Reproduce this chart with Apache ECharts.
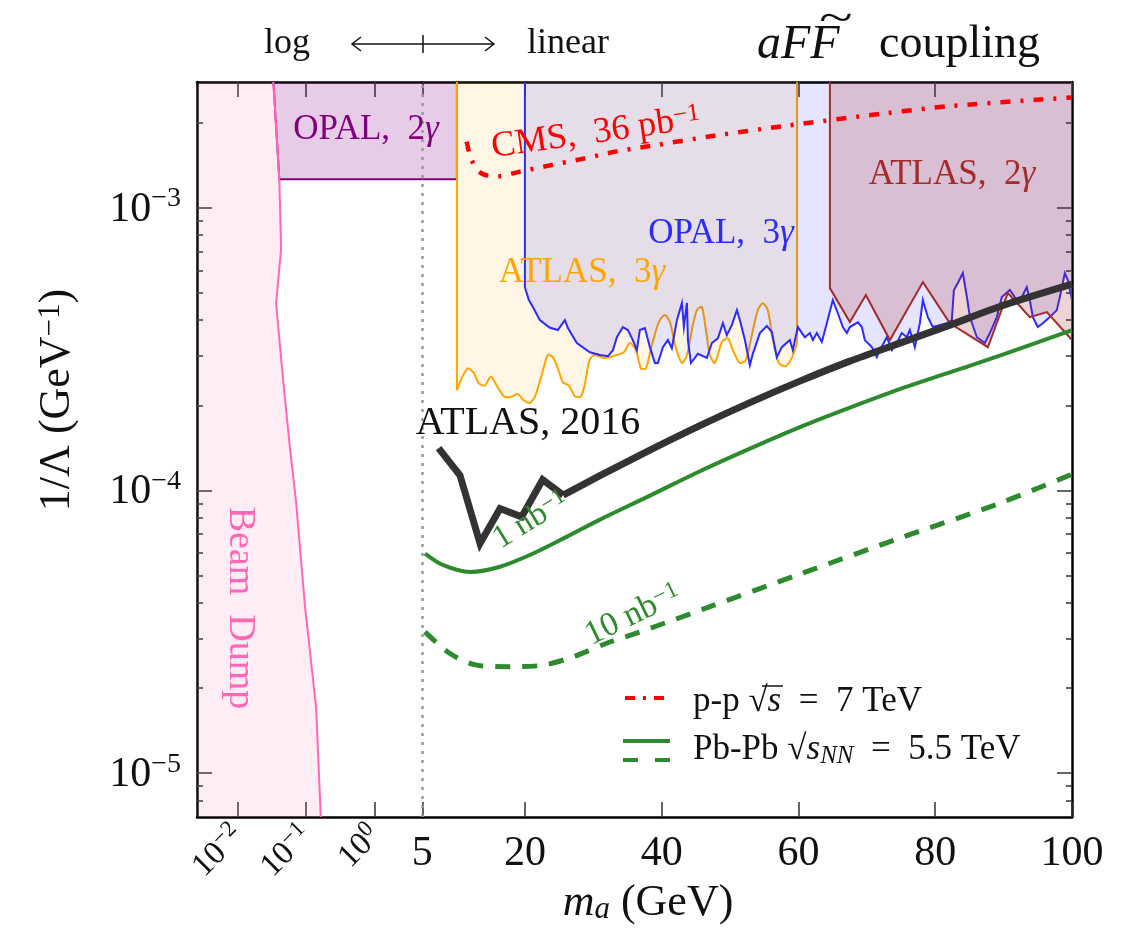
<!DOCTYPE html>
<html>
<head>
<meta charset="utf-8">
<title>aFF coupling</title>
<script src="https://cdn.jsdelivr.net/npm/echarts@6/dist/echarts.min.js"></script>
<style>
  html, body { margin: 0; padding: 0; background: #fff; }
  #chart { width: 1137px; height: 935px; }
</style>
</head>
<body>
<div id="chart"></div>
<script>
  const FONT = 'Liberation Serif'

  // axis ranges
  const yMin = 7e-6, yMax = 2.78e-3
  const xLogMin = 0.00254, xSplit = 5, xMax = 100

  // ticks
  const logTicks = [0.01, 0.1, 1]
  const linTicks = [5, 20, 40, 60, 80, 100]
  const yMajor = [1e-5, 1e-4, 1e-3]
  const yMinor = [8e-6, 9e-6,
    2e-5, 3e-5, 4e-5, 5e-5, 6e-5, 7e-5, 8e-5, 9e-5,
    2e-4, 3e-4, 4e-4, 5e-4, 6e-4, 7e-4, 8e-4, 9e-4, 2e-3]

  // exclusion boundaries [m_a (GeV), 1/Lambda (GeV^-1)]
  const beamDump = [[0.0332, yMax], [0.0406, 1.26e-3], [0.0431, 7.15e-4], [0.0364, 4.57e-4],
    [0.0465, 2.41e-4], [0.0583, 1.40e-4], [0.0714, 9.09e-5], [0.0967, 3.86e-5],
    [0.140, 1.71e-5], [0.164, yMin]]

  const opal2g = [[0.0332, yMax], [0.0406, 1.26e-3], [10.06, 1.26e-3], [10.06, yMax]]

  const atlas3g = [[10.06, yMax], [10.06, 2.26e-4], [10.79, 2.50e-4], [11.67, 2.70e-4], [12.54, 2.60e-4],
    [13.27, 2.39e-4], [14.15, 2.35e-4], [15.03, 2.53e-4], [15.91, 2.34e-4], [16.93, 2.15e-4],
    [17.95, 2.14e-4], [18.98, 2.19e-4], [19.85, 2.08e-4], [20.73, 2.04e-4], [21.46, 2.14e-4],
    [22.34, 2.50e-4], [23.36, 3.01e-4], [24.09, 2.96e-4], [24.82, 2.70e-4], [25.56, 2.41e-4],
    [26.43, 2.35e-4], [27.31, 2.15e-4], [28.19, 2.15e-4], [28.77, 2.37e-4], [29.36, 2.84e-4],
    [30.09, 3.01e-4], [31.55, 2.94e-4], [33.01, 2.99e-4], [34.47, 3.08e-4], [35.35, 3.32e-4],
    [36.23, 3.13e-4], [36.96, 2.70e-4], [37.69, 2.70e-4], [38.57, 3.26e-4], [39.59, 3.94e-4],
    [40.47, 4.17e-4], [41.20, 3.94e-4], [42.08, 3.18e-4], [42.96, 2.82e-4], [43.69, 3.01e-4],
    [44.41, 3.69e-4], [45.15, 4.34e-4], [45.88, 4.45e-4], [46.46, 3.69e-4], [47.05, 3.01e-4],
    [47.78, 2.82e-4], [48.80, 3.34e-4], [49.68, 3.45e-4], [50.41, 3.13e-4], [51.43, 2.82e-4],
    [52.31, 2.89e-4], [53.19, 3.54e-4], [54.06, 4.34e-4], [54.79, 4.59e-4], [55.52, 4.34e-4],
    [56.25, 3.40e-4], [57.13, 2.82e-4], [58.15, 2.75e-4], [59.03, 2.94e-4], [59.8, 3.32e-4],
    [59.8, yMax]]

  const opal3g = [[20, yMax], [20, 5.23e-4], [20.58, 4.71e-4], [21.17, 4.45e-4], [22.19, 4.0e-4],
    [23.66, 3.76e-4], [24.82, 3.69e-4], [25.85, 4.0e-4], [26.29, 3.75e-4], [27.6, 3.32e-4],
    [29.5, 3.08e-4], [30.97, 3.01e-4], [32.14, 2.98e-4], [32.87, 3.13e-4], [33.45, 3.48e-4],
    [34.33, 3.78e-4], [35.06, 3.69e-4], [35.79, 3.40e-4], [36.37, 3.13e-4], [36.81, 3.69e-4],
    [37.54, 3.75e-4], [38.28, 3.21e-4], [39.01, 2.82e-4], [39.45, 2.82e-4], [40.18, 3.21e-4],
    [40.91, 3.40e-4], [41.49, 3.18e-4], [42.23, 4.0e-4], [42.96, 4.6e-4], [43.25, 3.78e-4],
    [43.69, 4.6e-4], [43.84, 3.4e-4], [44.28, 2.82e-4], [45.29, 3.04e-4], [46.61, 2.94e-4],
    [47.34, 3.32e-4], [48.22, 3.45e-4], [48.95, 3.9e-4], [49.53, 3.54e-4], [50.26, 3.84e-4],
    [51.0, 4.34e-4], [51.43, 4.0e-4], [52.17, 3.4e-4], [52.9, 2.77e-4], [53.33, 3.04e-4],
    [54.36, 3.6e-4], [55.38, 3.81e-4], [56.11, 3.63e-4], [56.84, 2.96e-4], [57.57, 3.21e-4],
    [58.74, 3.4e-4], [59.18, 3.13e-4], [59.91, 3.78e-4], [60.94, 3.48e-4], [61.67, 3.6e-4],
    [62.11, 3.4e-4], [62.69, 3.6e-4], [63.42, 3.35e-4], [64.15, 3.9e-4], [65.03, 4.71e-4],
    [65.76, 4.23e-4], [66.49, 3.78e-4], [67.08, 3.6e-4], [67.52, 3.78e-4], [68.69, 3.93e-4],
    [69.27, 3.78e-4], [69.71, 3.4e-4], [70.73, 3.21e-4], [71.46, 2.96e-4], [71.9, 3.13e-4],
    [72.92, 3.48e-4], [73.65, 3.13e-4], [74.38, 3.32e-4], [75.11, 3.6e-4], [75.85, 3.48e-4],
    [76.29, 3.69e-4], [77.02, 3.21e-4], [77.75, 3.9e-4], [78.19, 4.71e-4], [78.92, 4.1e-4],
    [79.65, 3.78e-4], [81.7, 3.9e-4], [82.43, 4.0e-4], [82.73, 5.11e-4], [83.31, 5.41e-4],
    [84.04, 5.87e-4], [84.63, 4.83e-4], [85.07, 4.1e-4], [86.09, 3.48e-4], [87.26, 3.32e-4],
    [87.99, 3.6e-4], [89.01, 4.1e-4], [89.74, 4.83e-4], [90.91, 5.11e-4], [91.93, 4.71e-4],
    [92.66, 4.83e-4], [93.39, 5.23e-4], [93.83, 4.71e-4], [94.27, 4.1e-4], [95.0, 3.78e-4],
    [95.73, 3.9e-4], [96.76, 4.1e-4], [97.78, 4.34e-4], [98.22, 4.83e-4], [98.95, 5.87e-4],
    [99.39, 5.54e-4], [100, 4.71e-4], [100, yMax]]

  const atlas2g = [[64.6, yMax], [64.6, 5.19e-4], [67.52, 3.94e-4], [69.86, 4.91e-4], [73.37, 3.40e-4],
    [78.2, 5.45e-4], [82.14, 3.90e-4], [87.7, 3.21e-4], [90.62, 4.99e-4], [93.83, 4.10e-4],
    [96.32, 4.27e-4], [100, 3.40e-4], [100, yMax]]

  // limit / projection curves
  const cms36 = [[11.49, 1.71e-3], [12.22, 1.47e-3], [13.68, 1.32e-3], [16.1, 1.29e-3], [19.27, 1.34e-3],
    [23.67, 1.41e-3], [28.54, 1.49e-3], [33.42, 1.58e-3], [38.28, 1.65e-3], [48.03, 1.80e-3],
    [57.77, 1.94e-3], [72.39, 2.15e-3], [82.63, 2.29e-3], [99.93, 2.45e-3]]

  const atlas2016Low = [[7.38, 1.41e-4], [10.51, 1.13e-4], [13.44, 6.49e-5], [16.36, 8.63e-5],
    [19.52, 8.06e-5], [22.59, 1.09e-4], [25.6, 9.62e-5]]
  const atlas2016High = [[25.6, 9.62e-5], [30.97, 1.127e-4], [38.28, 1.388e-4], [45.59, 1.694e-4],
    [52.9, 2.043e-4], [60.21, 2.434e-4], [67.52, 2.865e-4], [74.83, 3.317e-4], [82.14, 3.84e-4],
    [89.45, 4.47e-4], [100, 5.36e-4]]

  const pbpb1nb = [[5.39, 5.98e-5], [8.07, 5.44e-5], [11.97, 5.15e-5], [16.36, 5.37e-5], [21.21, 5.98e-5],
    [26.1, 6.85e-5], [30.97, 7.88e-5], [38.28, 9.58e-5], [45.59, 1.169e-4], [52.9, 1.405e-4],
    [60.21, 1.674e-4], [67.52, 1.962e-4], [74.83, 2.281e-4], [83.12, 2.662e-4], [89.45, 2.996e-4],
    [100, 3.69e-4]]

  const pbpb10nb = [[5.39, 3.16e-5], [9.05, 2.65e-5], [12.95, 2.41e-5], [17.82, 2.38e-5], [22.68, 2.41e-5],
    [27.07, 2.58e-5], [31.95, 2.88e-5], [36.82, 3.16e-5], [41.69, 3.48e-5], [47.05, 3.88e-5],
    [60.21, 5.06e-5], [74.83, 6.78e-5], [89.45, 9.01e-5], [100, 1.141e-4]]

  const chart = echarts.init(document.getElementById('chart'))

  function expLabel (v) {
    const e = Math.round(Math.log10(v))
    return '{b|10}{s|' + String(e).replace('-', '\u2212') + '}'
  }

  // filled exclusion region; outline stroked except along closing edges,
  // optional smoothing only on the inner part of the outline
  function region (outline, closing, line, fill, gi, z, smooth) {
    return {
      type: 'custom',
      xAxisIndex: gi,
      yAxisIndex: gi,
      z: z,
      clip: true,
      silent: true,
      data: [outline[0]],
      renderItem: function (params, api) {
        const cs = params.coordSys
        const pts = outline.map(p => api.coord(p))
        const poly = pts.concat(closing.map(p => api.coord(p)))
        const n = pts.length
        const lineStyle = { stroke: line, lineWidth: 2, fill: null }
        const children = [{ type: 'polygon', shape: { points: poly }, style: { fill: fill, stroke: null } }]
        if (smooth) {
          children.push(
            { type: 'polyline', shape: { points: pts.slice(0, 2) }, style: lineStyle },
            { type: 'polyline', shape: { points: pts.slice(1, n - 1), smooth: smooth }, style: lineStyle },
            { type: 'polyline', shape: { points: pts.slice(n - 2) }, style: lineStyle }
          )
        } else {
          children.push({ type: 'polyline', shape: { points: pts }, style: lineStyle })
        }
        return {
          type: 'group',
          clipPath: { type: 'rect', shape: { x: cs.x, y: cs.y, width: cs.width, height: cs.height } },
          children: children
        }
      }
    }
  }

  function curve (data, color, width, type, z, smooth) {
    return {
      type: 'line',
      xAxisIndex: 1,
      yAxisIndex: 1,
      data: data,
      showSymbol: false,
      symbol: 'none',
      smooth: smooth,
      z: z,
      lineStyle: { color: color, width: width, type: type, cap: 'butt', join: 'miter' }
    }
  }

  const axisLineStyle = { lineStyle: { color: '#000', width: 2.5 } }
  const tickStyle = { color: '#333', width: 1.5 }

  function xAxisOf (gi, pos, log) {
    const ax = {
      gridIndex: gi,
      type: log ? 'log' : 'value',
      position: pos,
      min: log ? xLogMin : xSplit,
      max: log ? xSplit : xMax,
      axisLine: axisLineStyle,
      axisTick: { inside: true, length: 15, lineStyle: tickStyle, customValues: log ? logTicks : linTicks },
      splitLine: { show: false },
      axisLabel: { show: false }
    }
    if (log) ax.logBase = 10
    if (pos === 'bottom') {
      ax.axisLabel = log ? {
        show: true,
        customValues: logTicks,
        rotate: 45,
        margin: 13,
        formatter: expLabel,
        rich: {
          b: { fontFamily: FONT, fontSize: 33, color: '#111', verticalAlign: 'bottom', lineHeight: 36 },
          s: { fontFamily: FONT, fontSize: 23, color: '#111', verticalAlign: 'top', lineHeight: 24 }
        }
      } : {
        show: true,
        customValues: linTicks,
        margin: 16,
        fontFamily: FONT,
        fontSize: 42,
        color: '#111'
      }
    }
    return ax
  }

  function yAxisOf (gi, pos, minor) {
    return {
      gridIndex: gi,
      type: 'log',
      logBase: 10,
      position: pos,
      min: yMin,
      max: yMax,
      axisLine: minor ? { show: false } : axisLineStyle,
      axisTick: { inside: true, length: minor ? 6 : 15, lineStyle: tickStyle, customValues: minor ? yMinor : yMajor },
      splitLine: { show: false },
      axisLabel: (gi === 0 && !minor) ? {
        customValues: yMajor,
        margin: 16,
        formatter: expLabel,
        rich: {
          b: { fontFamily: FONT, fontSize: 42, color: '#111', verticalAlign: 'bottom', lineHeight: 46 },
          s: { fontFamily: FONT, fontSize: 28, color: '#111', verticalAlign: 'top', lineHeight: 26 }
        }
      } : { show: false }
    }
  }

  function txt (x, y, text, size, color, rot, align, sx) {
    return {
      type: 'text',
      x: x,
      y: y,
      rotation: rot || 0,
      scaleX: sx || 1,
      silent: true,
      z: 100,
      style: {
        text: text,
        fill: color,
        fontFamily: FONT,
        fontSize: size,
        textAlign: align || 'center',
        textVerticalAlign: 'middle',
        align: align || 'center',
        verticalAlign: 'middle',
        rich: {
          n: { fontFamily: FONT, fontSize: size, fill: color },
          i: { fontFamily: FONT, fontSize: size, fill: color, fontStyle: 'italic' },
          sup: { fontFamily: FONT, fontSize: Math.round(size * 0.7), fill: color, verticalAlign: 'top' },
          sub: { fontFamily: FONT, fontSize: Math.round(size * 0.7), fill: color, verticalAlign: 'bottom', padding: [12, 0, 0, 0] },
          subi: { fontFamily: FONT, fontSize: Math.round(size * 0.7), fill: color, fontStyle: 'italic', verticalAlign: 'bottom', padding: [12, 0, 0, 0] }
        }
      }
    }
  }

  function seg (x1, y1, x2, y2, color, width, dash) {
    return {
      type: 'line',
      silent: true,
      z: 100,
      shape: { x1: x1, y1: y1, x2: x2, y2: y2 },
      style: { stroke: color, lineWidth: width, lineDash: dash || null }
    }
  }

  function pl (points, color, width) {
    return {
      type: 'polyline',
      silent: true,
      z: 100,
      shape: { points: points },
      style: { stroke: color, lineWidth: width, fill: null }
    }
  }

  const purple = '#800080', orange = '#ffa500', blue = '#2b2bff', brown = '#a52a2a'
  const pink = '#ff69b4', red = '#ff0000', green = '#2e8a2e'

  const option = {
    animation: false,
    backgroundColor: '#fff',
    textStyle: { fontFamily: FONT },
    grid: [
      { left: 197, top: 82, width: 225.3, height: 735 },
      { left: 422.3, top: 82, width: 649.7, height: 735 }
    ],
    xAxis: [
      xAxisOf(0, 'bottom', true),
      xAxisOf(1, 'bottom', false),
      xAxisOf(0, 'top', true),
      xAxisOf(1, 'top', false)
    ],
    yAxis: [
      yAxisOf(0, 'left', false),
      yAxisOf(1, 'right', false),
      yAxisOf(0, 'left', true),
      yAxisOf(1, 'right', true)
    ],
    series: [
      region(opal2g, [], purple, 'rgba(128,0,128,0.2)', 0, 1),
      region(beamDump, [[xLogMin, yMin], [xLogMin, yMax]], pink, 'rgba(255,105,180,0.12)', 0, 2),
      region(opal2g, [], purple, 'rgba(128,0,128,0.2)', 1, 1),
      region(atlas3g, [], orange, 'rgba(255,165,0,0.1)', 1, 2, 0.25),
      region(opal3g, [], blue, 'rgba(0,0,255,0.1)', 1, 3),
      region(atlas2g, [], brown, 'rgba(165,42,42,0.2)', 1, 4),
      curve(cms36, red, 4.5, [10, 10, 3, 10], 6, 0.3),
      curve(pbpb10nb, green, 5, [15, 12], 6, 0.3),
      curve(pbpb1nb, green, 4, 'solid', 6, 0.3),
      curve(atlas2016Low, '#333', 7, 'solid', 7, false),
      Object.assign(curve(atlas2016High, '#333', 7, 'solid', 7, 0.3), {
        markLine: {
          silent: true,
          symbol: 'none',
          label: { show: false },
          lineStyle: { color: '#999', width: 2.5, type: [3, 6] },
          data: [{ xAxis: xSplit }]
        }
      })
    ],
    graphic: [
      // header
      txt(287, 44, 'log', 36, '#111'),
      txt(568, 44, 'linear', 36, '#111'),
      seg(352, 44, 494, 44, '#111', 1.5),
      seg(423, 35, 423, 53, '#111', 1.5),
      pl([[361, 37], [352, 44], [361, 51]], '#111', 1.5),
      pl([[485, 37], [494, 44], [485, 51]], '#111', 1.5),
      txt(757, 45, '{i|aFF}', 48, '#111', 0, 'left'),
      txt(836, 20, '~', 44, '#111', 0, 'center', 1.4),
      txt(879, 45, 'coupling', 46, '#111', 0, 'left'),
      // axis titles
      txt(57, 400, '{n|1/\u039b (GeV}{sup|\u22121}{n|)}', 44, '#111', Math.PI / 2),
      txt(648, 903, '{i|m}{subi|a}{n| (GeV)}', 44, '#111'),
      // region labels
      txt(366, 130, '{n|OPAL,  2}{i|\u03b3}', 35, purple),
      txt(952, 175, '{n|ATLAS,  2}{i|\u03b3}', 35, brown),
      txt(721, 234, '{n|OPAL,  3}{i|\u03b3}', 35, blue),
      txt(582, 273, '{n|ATLAS,  3}{i|\u03b3}', 35, orange),
      txt(596, 133, '{n|CMS,  36 pb}{sup|\u22121}', 36, red, 0.14),
      txt(528, 423, 'ATLAS, 2016', 40, '#111'),
      txt(531, 520, '{n|1 nb}{sup|\u22121}', 33, green, 0.55),
      txt(633, 615, '{n|10 nb}{sup|\u22121}', 34, green, 0.45),
      txt(240, 608, 'Beam  Dump', 38, pink, -Math.PI / 2),
      // legend
      seg(625, 698, 668, 698, red, 4, [10, 8, 3, 8]),
      txt(693, 702, '{n|p-p \u221a}{i|s}{n|  =  7 TeV}', 35, '#111', 0, 'left'),
      seg(762, 686, 783, 686, '#111', 1.5),
      seg(623, 741, 670, 741, green, 4),
      seg(623, 760, 670, 760, green, 4, [15, 17]),
      txt(693, 750, '{n|Pb-Pb \u221a}{i|s}{subi|NN}{n|  =  5.5 TeV}', 35, '#111', 0, 'left')
    ]
  }

  chart.setOption(option)
</script>
</body>
</html>
